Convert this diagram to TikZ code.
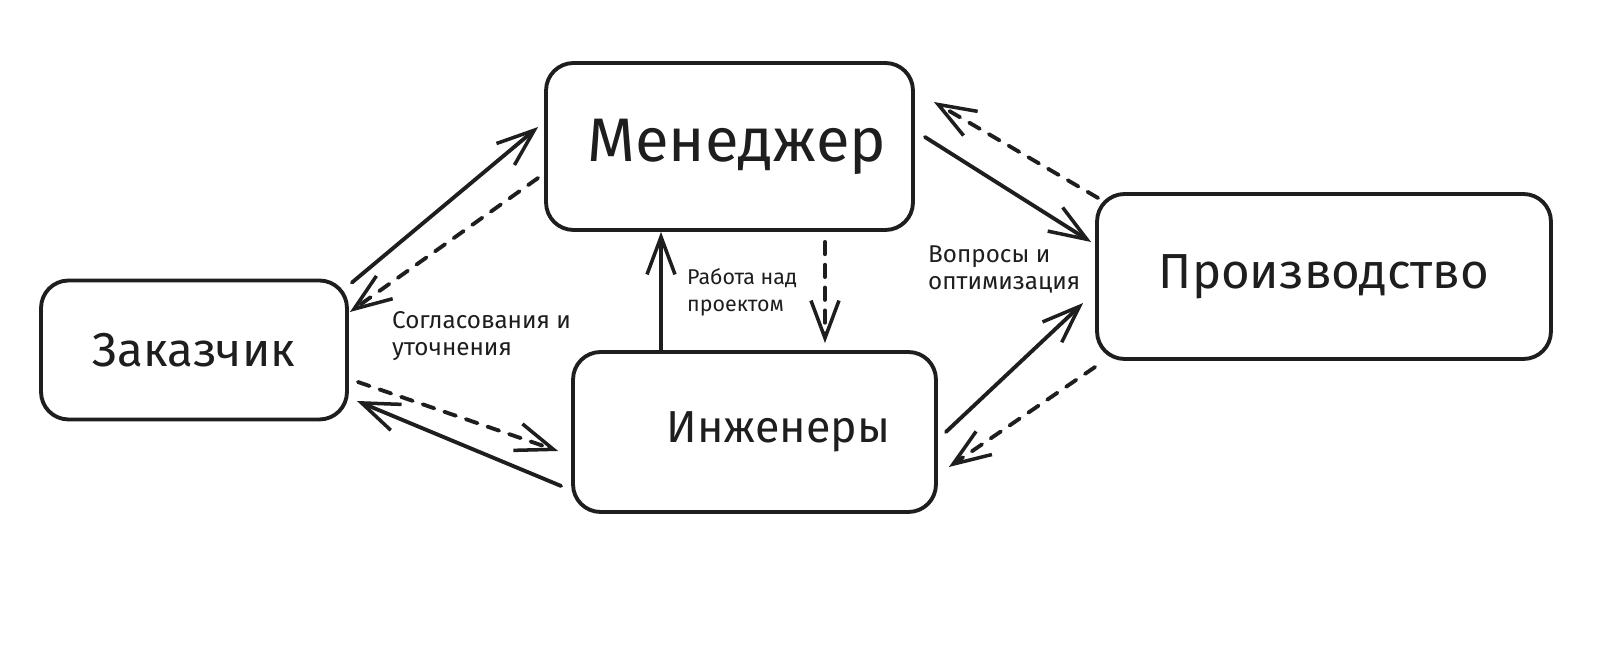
\documentclass[tikz,border=0pt]{standalone}
\usepackage{fontspec}
\setmainfont{Fira Sans}
\usetikzlibrary{arrows.meta,positioning}
\definecolor{ink}{HTML}{1E1E1E}
\tikzset{
  box/.style={draw=ink,rounded corners=.55cm,line width=2.2pt,fill=white,inner sep=0pt},
  flow/.style={-{Straight Barb[length=7.5mm,width=5.6mm,line width=2pt]},draw=ink,line width=2.2pt,line cap=round},
  backflow/.style={flow,dash pattern=on 7pt off 6pt},
  bigtext/.style={font=\fontsize{27}{30}\selectfont,text=ink},
  note/.style={font=\fontsize{13.8}{15.5}\selectfont,text=ink,align=left,anchor=west},
}
\begin{document}
\begin{tikzpicture}[x=.02cm,y=.02cm]
  \useasboundingbox[fill=white] (0,0) rectangle (1600,648);
  % boxes, centres
  \node[box,bigtext,minimum width=6.12cm,minimum height=2.78cm] (cust) at (194,298) {Заказчик};
  \node[box,bigtext,font=\fontsize{35}{38}\selectfont,minimum width=7.34cm,minimum height=3.34cm] (mgr) at (729.5,501.5) {\hspace*{.3cm}Менеджер};
  \node[box,bigtext,font=\fontsize{25.5}{30}\selectfont,minimum width=7.26cm,minimum height=3.2cm] (eng) at (754.5,216) {\hspace*{.96cm}Инженеры};
  \node[box,bigtext,font=\fontsize{28}{30}\selectfont,minimum width=9.08cm,minimum height=3.3cm] (prod) at (1324,371.5) {Производство};

  % customer <-> manager
  \draw[flow] ([xshift=.06cm,yshift=-.08cm]cust.north east) -- ([xshift=-.12cm,yshift=.39cm]mgr.west);
  \draw[backflow] ([xshift=-.12cm,yshift=-.63cm]mgr.west) -- ([xshift=.02cm,yshift=.76cm]cust.east);
  % customer <-> engineers
  \draw[backflow] ([xshift=.18cm,yshift=-.64cm]cust.east) -- ([xshift=-.26cm,yshift=-.38cm]eng.west);
  \draw[flow] ([xshift=-.2cm,yshift=-1.08cm]eng.west) -- ([xshift=.16cm,yshift=-1.02cm]cust.east);
  % engineers <-> manager
  \draw[flow] ([xshift=-1.87cm]eng.north) -- ([xshift=-1.87cm]eng.north |- mgr.south);
  \draw[backflow] ([xshift=1.91cm,yshift=-.2cm]mgr.south) -- ([xshift=1.91cm,yshift=.14cm]mgr.south |- eng.north);
  % manager <-> production
  \draw[flow] ([xshift=.2cm,yshift=.19cm]mgr.east) -- ([xshift=-.08cm,yshift=.69cm]prod.west);
  \draw[backflow] ([xshift=.06cm,yshift=1.57cm]prod.west) -- ([xshift=.38cm,yshift=.89cm]mgr.east);
  % engineers <-> production
  \draw[flow] ([xshift=.16cm]eng.east) -- ([xshift=-.24cm,yshift=-.53cm]prod.west);
  \draw[backflow] ([yshift=-1.81cm]prod.west) -- ([xshift=.22cm,yshift=-.7cm]eng.east);

  % edge notes
  \node[note] (agree) at (386,312) {Согласования и\\уточнения};
  \node[note,font=\fontsize{12.2}{15.5}\selectfont] (work) at (681,355.5) {Работа над\\проектом};
  \node[note] (quest) at (922,378.5) {Вопросы и\\оптимизация};
\end{tikzpicture}
\end{document}
